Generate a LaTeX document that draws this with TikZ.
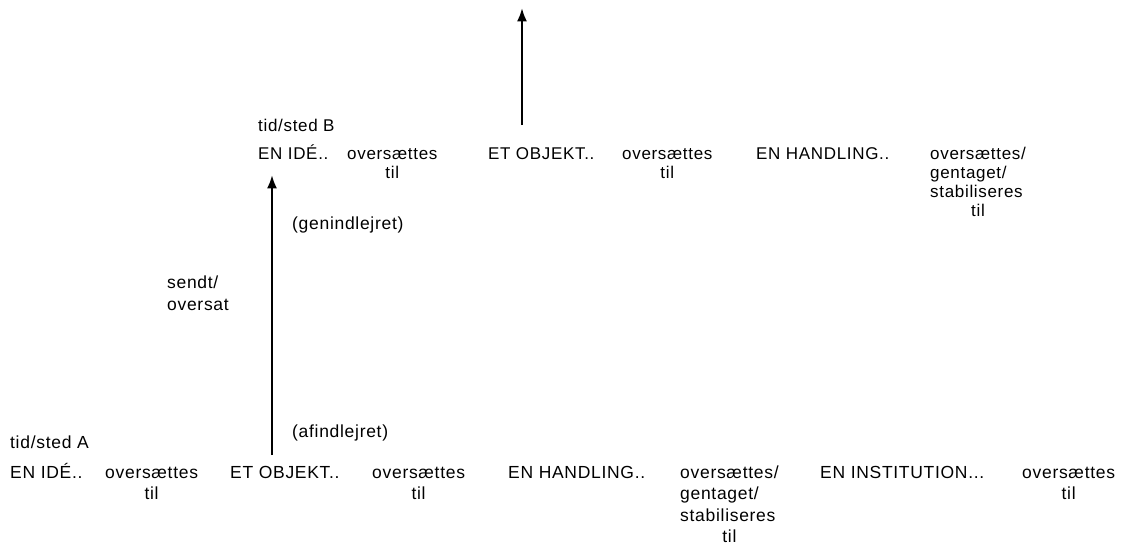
\documentclass[tikz,border=0pt]{standalone}
\usepackage{fontspec}
\setmainfont{Liberation Sans}[LetterSpace=4]
\usetikzlibrary{arrows.meta, positioning}
\newcommand{\overs}[1]{\begin{tabular}[t]{@{}c@{}}#1\end{tabular}}
\newcommand{\oversl}[1]{\begin{tabular}[t]{@{}l@{}}#1\end{tabular}}

\begin{document}
\begin{tikzpicture}[
    x=1pt, y=-1pt,
    word/.style={inner sep=0pt, anchor=base west, font=\fontsize{17.5}{21.5}\selectfont},
    wordB/.style={word, font=\fontsize{17}{19.3}\selectfont},
    arr/.style={-Latex, line width=2.3pt}
]
  \useasboundingbox (0,0) rectangle (1133,542);

  % tid/sted A
  \node[word] (tidA)  at (10,448)   {tid/sted A};
  \node[word] (ideA)  at (10,478)   {EN IDÉ..};
  \node[word] (o1A)   at (105,478)  {\overs{oversættes\\til}};
  \node[word] (objA)  at (230,478)  {ET OBJEKT..};
  \node[word] (o2A)   at (372,478)  {\overs{oversættes\\til}};
  \node[word] (handA) at (508,478)  {EN HANDLING..};
  \node[word] (o3A)   at (680,478)  {\oversl{oversættes/\\gentaget/\\stabiliseres\\\multicolumn{1}{@{}c@{}}{til}}};
  \node[word] (instA) at (820,478)  {EN INSTITUTION...};
  \node[word] (o4A)   at (1022,478) {\overs{oversættes\\til}};

  % tid/sted B
  \node[wordB] (tidB)  at (258,131) {tid/sted B};
  \node[wordB] (ideB)  at (258,159) {EN IDÉ..};
  \node[wordB] (o1B)   at (347,159) {\overs{oversættes\\til}};
  \node[wordB] (objB)  at (488,159) {ET OBJEKT..};
  \node[wordB] (o2B)   at (622,159) {\overs{oversættes\\til}};
  \node[wordB] (handB) at (756,159) {EN HANDLING..};
  \node[wordB] (o3B)   at (930,159) {\oversl{oversættes/\\gentaget/\\stabiliseres\\\multicolumn{1}{@{}c@{}}{til}}};

  % transport A -> B
  \coordinate (foot) at (272,455);
  \coordinate (tip)  at (272,175);
  \draw[arr] (foot) -- (tip);
  \node[word] (af)   at (292,437) {(afindlejret)};
  \node[word] (gen)  at (292,229) {(genindlejret)};
  \node[word, align=left] (sendt) at (167,310) {sendt/\\oversat};

  \coordinate (upfoot) at (522,125);
  \coordinate (up)     at (522,8);
  \draw[arr] (upfoot) -- (up);
\end{tikzpicture}
\end{document}
